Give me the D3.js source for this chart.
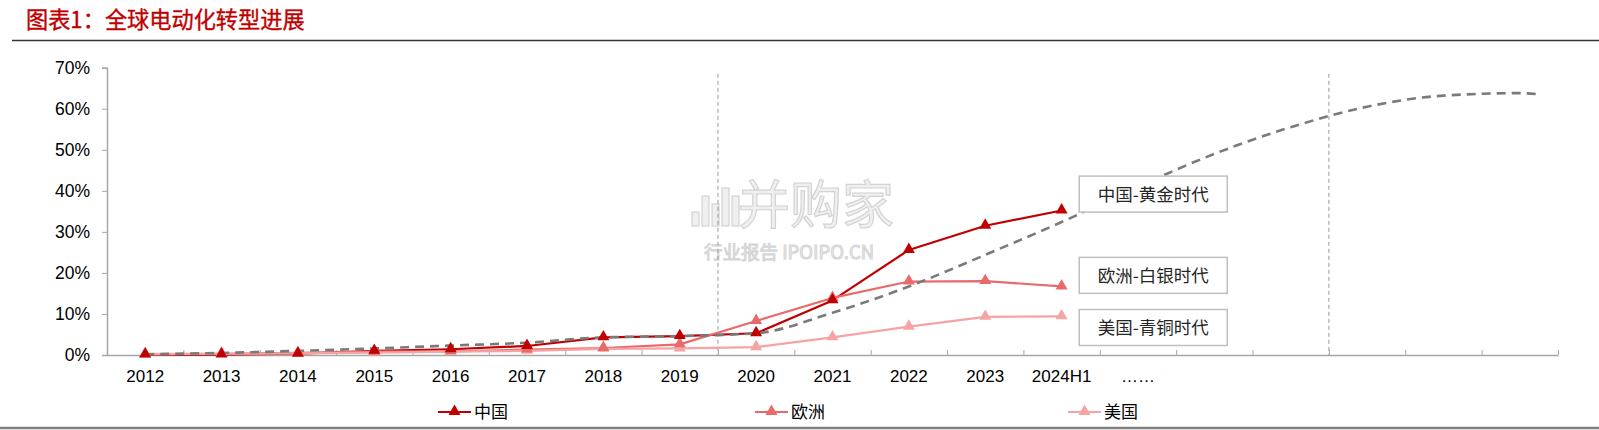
<!DOCTYPE html>
<html>
<head>
<meta charset="utf-8">
<script src="https://cdn.jsdelivr.net/npm/d3@7/dist/d3.min.js"></script>
<style>
  html, body { margin: 0; padding: 0; background: #fff; }
  svg { display: block; }
</style>
</head>
<body>
<svg id="chart" width="1599" height="430"></svg>
<script>
// ---------------- DATA ----------------
const categories = ["2012","2013","2014","2015","2016","2017","2018","2019","2020","2021","2022","2023","2024H1","……","","","","",""];
const yTicks = [0, 10, 20, 30, 40, 50, 60, 70];
const seriesNames = ["中国", "欧洲", "美国"];
const chinaValues  = [0.1, 0.1, 0.3, 1.0, 1.4, 2.2, 4.3, 4.6, 5.3, 13.3, 25.6, 31.5, 35.2];
const europeValues = [0.2, 0.3, 0.5, 0.8, 0.9, 1.3, 1.7, 2.6, 8.3, 13.9, 17.9, 18.0, 16.7];
const usaValues    = [0.2, 0.3, 0.4, 0.6, 0.8, 1.0, 1.5, 1.6, 1.9, 4.3, 6.9, 9.3, 9.4];
// trend curve (S-curve), x in category index units
const trendIndex  = [0, 1, 2, 3, 4, 5, 6, 7, 8, 9, 10, 11, 12, 13, 14, 15, 16, 17, 18, 18.27];
const trendValues = [0.2, 0.5, 1.0, 1.6, 2.3, 3.0, 4.3, 4.6, 5.3, 10.3, 16.7, 24.4, 32.4, 41, 49, 55.5, 60.5, 63.2, 63.8, 63.5];
const eraLabels = ["中国-黄金时代", "欧洲-白银时代", "美国-青铜时代"];
const dividerIndex = [7.5, 15.5];
const titleText = "图表1：全球电动化转型进展";

// ---------------- LAYOUT ----------------
const svg = d3.select("#chart");
const W = 1599, H = 430;
const plot = { left: 107, right: 1558, top: 67.7, bottom: 355 };
const numFont = "'Liberation Sans', Arial, sans-serif";
const cjkFont = "'Noto Sans CJK SC', 'Liberation Sans', sans-serif";
const colors = ["#C00000", "#E96A6A", "#F6A3A3"];
const series = [chinaValues, europeValues, usaValues];

const x = d3.scaleLinear().domain([-0.5, categories.length - 0.5]).range([plot.left, plot.right]);
const y = d3.scaleLinear().domain([0, 70]).range([plot.bottom, plot.top]);

svg.append("rect").attr("width", W).attr("height", H).attr("fill", "#fff");

// Title
svg.append("text").attr("x", 26).attr("y", 27.5)
  .attr("font-family", cjkFont).attr("font-size", 22.2).attr("fill", "#C00000")
  .attr("stroke", "#C00000").attr("stroke-width", 0.35)
  .text(titleText);
svg.append("line").attr("x1", 12).attr("x2", W).attr("y1", 40.5).attr("y2", 40.5)
  .attr("stroke", "#333").attr("stroke-width", 1.5);
// bottom rule
svg.append("line").attr("x1", 0).attr("x2", W).attr("y1", 428).attr("y2", 428)
  .attr("stroke", "#7f7f7f").attr("stroke-width", 2.5);

// Watermark
const wm = svg.append("g").attr("opacity", 0.9);
wm.append("text").attr("x", 738).attr("y", 224)
  .attr("font-family", cjkFont).attr("font-size", 52).attr("fill", "#eeeeee")
  .attr("stroke", "#cfcfcf").attr("stroke-width", 1.2).text("并购家");
wm.append("text").attr("x", 704).attr("y", 259)
  .attr("font-family", cjkFont).attr("font-size", 18.5).attr("fill", "#eeeeee")
  .attr("stroke", "#cfcfcf").attr("stroke-width", 1).text("行业报告 IPOIPO.CN");
[[0, 14], [10, 30], [20, 22], [30, 38], [40, 30]].forEach(function (d) {
  wm.append("rect").attr("x", 692 + d[0]).attr("y", 226 - d[1]).attr("width", 7).attr("height", d[1])
    .attr("fill", "#eeeeee").attr("stroke", "#cfcfcf").attr("stroke-width", 1.2);
});

// Y axis
const yAxis = d3.axisLeft(y).tickValues(yTicks).tickSize(5).tickPadding(12)
  .tickFormat(function (d) { return d + "%"; });
const gy = svg.append("g").attr("transform", "translate(" + plot.left + ",0)").call(yAxis);
gy.select(".domain").attr("stroke", "#a6a6a6").attr("stroke-width", 1.5);
gy.selectAll(".tick line").attr("stroke", "#a6a6a6");
gy.selectAll(".tick text").attr("font-family", numFont).attr("font-size", 17.5).attr("fill", "#000");

// X axis (ticks between categories, pointing up)
const boundaries = d3.range(categories.length + 1).map(function (i) { return i - 0.5; });
const xAxis = d3.axisBottom(x).tickValues(boundaries).tickSize(-5).tickSizeOuter(0).tickFormat("");
const gx = svg.append("g").attr("transform", "translate(0," + plot.bottom + ")").call(xAxis);
gx.select(".domain").attr("stroke", "#a6a6a6").attr("stroke-width", 1.5);
gx.selectAll(".tick line").attr("stroke", "#a6a6a6");

svg.append("g").selectAll("text").data(categories).join("text")
  .attr("x", function (d, i) { return x(i); })
  .attr("y", 382)
  .attr("text-anchor", "middle")
  .attr("font-family", numFont).attr("font-size", 17).attr("fill", "#000")
  .text(function (d) { return d; });

// Divider dashed verticals
svg.append("g").selectAll("line").data(dividerIndex).join("line")
  .attr("x1", function (d) { return x(d); }).attr("x2", function (d) { return x(d); })
  .attr("y1", y(68.5)).attr("y2", plot.bottom)
  .attr("stroke", "#9a9a9a").attr("stroke-width", 1).attr("stroke-dasharray", "4,3");

// Series lines
const line = d3.line().x(function (d, i) { return x(i); }).y(function (d) { return y(d); });
const tri = d3.symbol().type(d3.symbolTriangle).size(62);

series.forEach(function (vals, s) {
  svg.append("path").datum(vals).attr("d", line)
    .attr("fill", "none").attr("stroke", colors[s]).attr("stroke-width", 2.2)
    .attr("stroke-linejoin", "round");
});

// Trend dashed curve
const trendLine = d3.line().curve(d3.curveMonotoneX)
  .x(function (d, i) { return x(trendIndex[i]); }).y(function (d) { return y(d); });
svg.append("path").datum(trendValues).attr("d", trendLine)
  .attr("fill", "none").attr("stroke", "#7a7a7a").attr("stroke-width", 2.6)
  .attr("stroke-dasharray", "9,6");

// Markers (US first, China on top)
[2, 1, 0].forEach(function (s) {
  svg.append("g").selectAll("path").data(series[s]).join("path")
    .attr("transform", function (d, i) { return "translate(" + x(i) + "," + (y(d) - 0.5) + ")"; })
    .attr("d", tri).attr("fill", colors[s]);
});

// Era label boxes
const boxCenters = [39.2, 19.4, 6.7];
eraLabels.forEach(function (t, i) {
  const cx = x(13.2), cy = y(boxCenters[i]);
  svg.append("rect").attr("x", cx - 74).attr("y", cy - 18).attr("width", 148).attr("height", 36)
    .attr("fill", "#fff").attr("stroke", "#bfbfbf").attr("stroke-width", 1.5);
  svg.append("text").attr("x", cx).attr("y", cy + 6.5).attr("text-anchor", "middle")
    .attr("font-family", cjkFont).attr("font-size", 17.5).attr("fill", "#262626").text(t);
});

// Legend
const legendX = [438, 755, 1068];
seriesNames.forEach(function (n, s) {
  const g = svg.append("g").attr("transform", "translate(" + legendX[s] + ",412)");
  g.append("line").attr("x1", 0).attr("x2", 33).attr("y1", 0).attr("y2", 0)
    .attr("stroke", colors[s]).attr("stroke-width", 2.2);
  g.append("path").attr("transform", "translate(16.5,-0.5)").attr("d", tri).attr("fill", colors[s]);
  g.append("text").attr("x", 36).attr("y", 6).attr("font-family", cjkFont)
    .attr("font-size", 17).attr("fill", "#000").text(n);
});
</script>
</body>
</html>
